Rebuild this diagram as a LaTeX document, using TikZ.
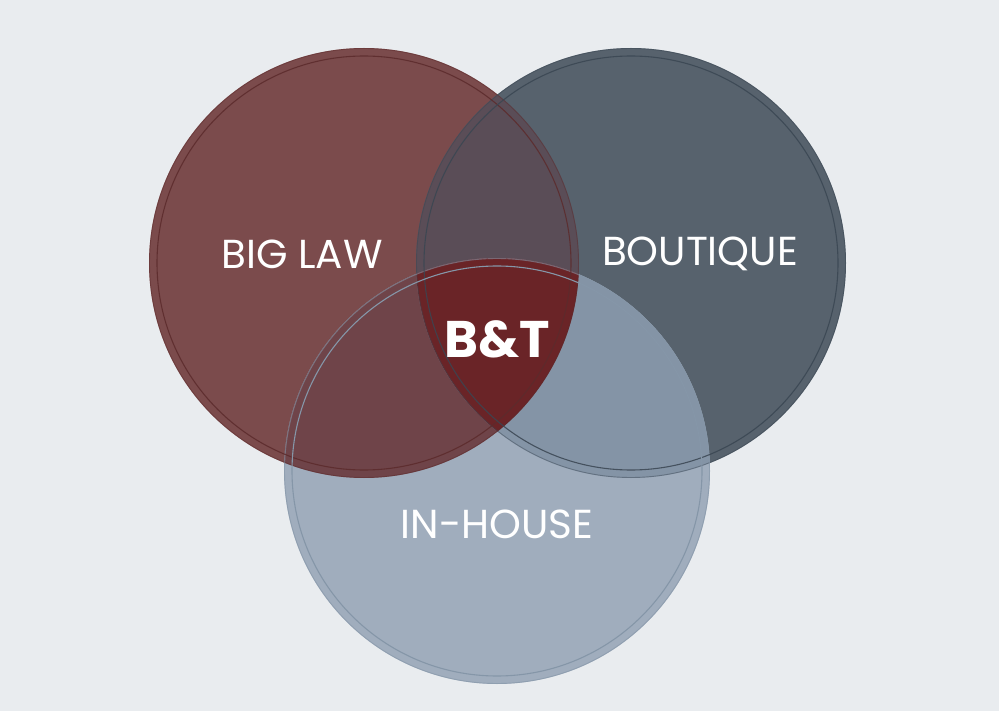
\documentclass[tikz,border=0pt]{standalone}
\usepackage{fontspec}
\setmainfont{Poppins}
\usetikzlibrary{positioning}
\definecolor{bgcol}{HTML}{E9ECEF}
\definecolor{lawcol}{HTML}{7B4B4C}
\definecolor{boucol}{HTML}{57626D}
\definecolor{houcol}{HTML}{A0ADBD}
\definecolor{lawboucol}{HTML}{5A4D57}
\definecolor{lawhoucol}{HTML}{6F4449}
\definecolor{bouhoucol}{HTML}{8494A6}
\definecolor{btcol}{HTML}{6A2427}
\definecolor{lawline}{HTML}{5C2B2C}
\definecolor{bouline}{HTML}{3A4652}
\definecolor{houline}{HTML}{8596A8}

\begin{document}
\begin{tikzpicture}[x=1pt,y=-1pt,
  circlabel/.style={text=white,inner sep=0pt,font=\fontsize{40.5}{42}\selectfont},
  ring/.style={line width=1.1pt},
  rim/.style={line width=0.9pt}]
  \fill[bgcol] (0,0) rectangle (999,711);
  \coordinate (law) at (364,263); \coordinate (bou) at (631,263); \coordinate (hou) at (497,471);
  % plain discs
  \fill[lawcol] (law) circle[radius=215];
  \fill[boucol] (bou) circle[radius=215];
  \fill[houcol] (hou) circle[radius=213];
  % pairwise overlaps
  \begin{scope} \clip (law) circle[radius=215]; \fill[lawboucol] (bou) circle[radius=215]; \end{scope}
  \begin{scope} \clip (law) circle[radius=215]; \fill[lawhoucol] (hou) circle[radius=213]; \end{scope}
  \begin{scope} \clip (bou) circle[radius=215]; \fill[bouhoucol] (hou) circle[radius=213]; \end{scope}
  % centre
  \begin{scope} \clip (law) circle[radius=215]; \clip (bou) circle[radius=215];
    \fill[btcol] (hou) circle[radius=213]; \end{scope}
  % rims and inner rings
  \draw[rim,lawline,opacity=.45] (law) circle[radius=214.5];
  \draw[rim,bouline,opacity=.45] (bou) circle[radius=214.5];
  \draw[rim,houline,opacity=.6] (hou) circle[radius=212.5];
  \draw[ring,lawline,opacity=.85] (law) circle[radius=207];
  \draw[ring,bouline,opacity=.85] (bou) circle[radius=207];
  \draw[ring,houline] (hou) circle[radius=205];
  % labels
  \node[circlabel] (biglaw) at (302,254) {BIG LAW};
  \node[circlabel] (boutique) at (700,254) {BOUTIQUE};
  \node[circlabel] (inhouse) at (497,524) {IN-HOUSE};
  \node[circlabel,font=\fontsize{51.5}{53}\selectfont\bfseries] (bt) at (497,339) {B\&T};
\end{tikzpicture}
\end{document}
